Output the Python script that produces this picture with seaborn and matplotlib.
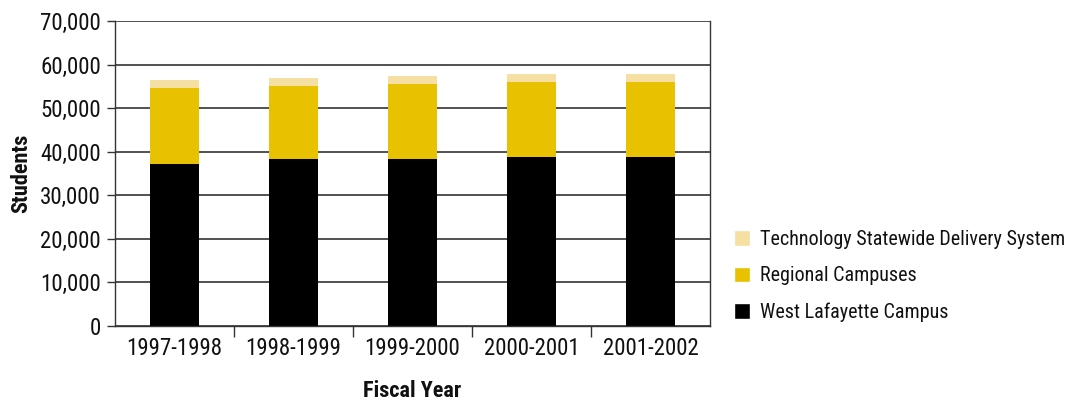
import matplotlib
matplotlib.use("Agg")
import matplotlib.pyplot as plt
import seaborn as sns
import pandas as pd
import numpy as np
from matplotlib.patches import Patch
from matplotlib import font_manager

years = ["1997-1998", "1998-1999", "1999-2000", "2000-2001", "2001-2002"]
west_lafayette = [37200, 38300, 38300, 38800, 38800]
regional = [17450, 16850, 17300, 17300, 17300]
tsds = [1850, 1850, 1850, 1850, 1850]

sns.set_theme(style="white")

# look for a condensed / narrow font
cands = []
for f in font_manager.fontManager.ttflist:
    key = (f.name + " " + f.fname).lower()
    st = str(f.stretch).lower()
    if ("narrow" in key or "condensed" in key or "cond" in st) and "semi" not in key:
        cands.append(f)
pref = ["liberation sans narrow", "roboto condensed", "open sans condensed", "dejavu sans condensed", "noto sans"]
def score(f):
    k = (f.name + " " + f.fname).lower()
    for i, p in enumerate(pref):
        if p.split()[0] in k:
            return i
    return 99
cands.sort(key=score)
reg_path = None
bold_path = None
for f in cands:
    isbold = str(f.weight) in ("bold", "700", "600") or "bold" in f.fname.lower()
    isital = f.style != "normal" or "italic" in f.fname.lower() or "oblique" in f.fname.lower()
    if isital:
        continue
    if isbold and bold_path is None:
        bold_path = f.fname
    if not isbold and reg_path is None:
        reg_path = f.fname

if reg_path:
    fp = font_manager.FontProperties(fname=reg_path, size=16.5)
    fpl = font_manager.FontProperties(fname=reg_path, size=14.5)
    fb = font_manager.FontProperties(fname=bold_path or reg_path, size=16, weight="bold")
else:
    fp = font_manager.FontProperties(family="DejaVu Sans", size=12.5)
    fpl = font_manager.FontProperties(family="DejaVu Sans", size=11.5)
    fb = font_manager.FontProperties(family="DejaVu Sans", size=12.5, weight="bold")

df = pd.DataFrame({"year": years, "west": west_lafayette, "regional": regional, "tsds": tsds})
df["cum2"] = df["west"] + df["regional"]
df["cum3"] = df["cum2"] + df["tsds"]

c_tsds = "#F6DFA2"
c_reg = "#E8C200"
c_west = "#000000"

fig = plt.figure(figsize=(10.73, 4.05), dpi=100)
ax = fig.add_axes([115/1073, 1 - 326/405, (710-115)/1073, (326-21)/405])

w = 0.41
sns.barplot(data=df, x="year", y="cum3", order=years, color=c_tsds, width=w, ax=ax, saturation=1, linewidth=0)
sns.barplot(data=df, x="year", y="cum2", order=years, color=c_reg, width=w, ax=ax, saturation=1, linewidth=0)
sns.barplot(data=df, x="year", y="west", order=years, color=c_west, width=w, ax=ax, saturation=1, linewidth=0)

ax.set_ylim(0, 70000)
ax.set_xlim(-0.5, 4.5)
yt = np.arange(0, 70001, 10000)
ax.set_yticks(yt)
ax.set_yticklabels([f"{v:,}" for v in yt], fontproperties=fp, color="#111111")
ax.set_axisbelow(True)
ax.yaxis.grid(True, color="#333333", linewidth=1.2)
ax.xaxis.grid(False)
for s in ["left", "right", "bottom"]:
    ax.spines[s].set_visible(True)
    ax.spines[s].set_color("#333333")
    ax.spines[s].set_linewidth(1.0)
ax.spines["top"].set_visible(False)
ax.tick_params(axis="y", which="both", left=True, length=6, width=1, color="#333333", pad=4)
ax.set_xticks(range(5))
ax.set_xticklabels(years, fontproperties=fp, color="#111111")
ax.tick_params(axis="x", which="major", length=0, pad=8)
ax.set_xticks(np.arange(0.5, 4.5, 1), minor=True)
ax.tick_params(axis="x", which="minor", bottom=True, length=8, width=1, color="#333333")
ax.set_xlabel("Fiscal Year", fontproperties=fb, color="#111111", labelpad=14)
ax.set_ylabel("Students", fontproperties=fb, color="#111111", labelpad=6)

handles = [Patch(facecolor=c_tsds, label="Technology Statewide Delivery System"),
           Patch(facecolor=c_reg, label="Regional Campuses"),
           Patch(facecolor=c_west, label="West Lafayette Campus")]
leg = fig.legend(handles=handles, loc="center left", bbox_to_anchor=(734/1073, 1 - 276/405),
           frameon=False, prop=fpl, handlelength=0.8, handleheight=0.8,
           handletextpad=0.5, labelspacing=0.85, borderaxespad=0, borderpad=0)
for t in leg.get_texts():
    t.set_color("#111111")

fig.savefig("out.png", dpi=100)
